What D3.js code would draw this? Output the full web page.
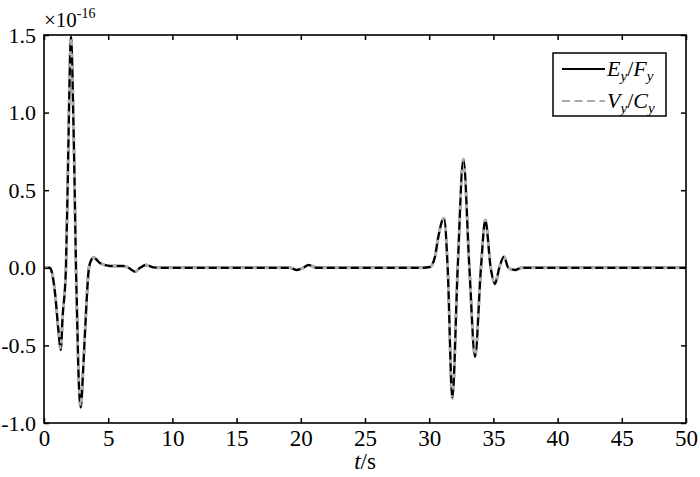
<!DOCTYPE html>
<html><head><meta charset="utf-8">
<script src="https://cdn.jsdelivr.net/npm/d3@7"></script>
<style>
html,body{margin:0;padding:0;background:#fff;}
svg{display:block;font-family:"Liberation Serif","Times New Roman",serif;}
</style></head>
<body><svg id="c" width="700" height="477"></svg>
<script>
// time samples (s)
const timeS = [0, 0.45, 0.6, 0.86, 1.12, 1.30, 1.45, 1.71, 1.87, 2.0, 2.10, 2.2, 2.36, 2.49, 2.67, 2.86, 3.06, 3.32, 3.5, 3.68, 3.84, 4.36, 5.14, 6.18, 6.6, 7.09, 7.48, 7.94, 8.5, 9.0, 15.5, 19.16, 19.68, 20.2, 20.6, 21.24, 29.5, 30.06, 30.45, 30.71, 31.15, 31.44, 31.8, 32.22, 32.66, 33.13, 33.57, 34.03, 34.37, 34.79, 35.12, 35.46, 35.83, 36.16, 36.68, 37.2, 50];
// Ey/Fy (x1e-16)
const eyFy = [0, 0, -0.025, -0.164, -0.40, -0.53, -0.315, 0, 0.65, 1.25, 1.49, 1.3, 0.65, 0, -0.64, -0.90, -0.64, -0.21, 0, 0.05, 0.068, 0.03, 0.012, 0.012, 0.0, -0.025, 0.0, 0.018, 0.003, 0, 0, 0, -0.014, 0, 0.018, 0, 0, 0.005, 0.072, 0.2, 0.319, 0, -0.841, 0, 0.699, 0, -0.573, 0, 0.308, 0, -0.104, 0, 0.072, 0, -0.014, 0, 0];
// Vy/Cy (x1e-16)
const vyCy = [0, 0, -0.025, -0.164, -0.40, -0.53, -0.315, 0, 0.65, 1.25, 1.49, 1.3, 0.65, 0, -0.64, -0.90, -0.64, -0.21, 0, 0.05, 0.068, 0.03, 0.012, 0.012, 0.0, -0.025, 0.0, 0.018, 0.003, 0, 0, 0, -0.014, 0, 0.018, 0, 0, 0.005, 0.072, 0.2, 0.319, 0, -0.841, 0, 0.699, 0, -0.573, 0, 0.308, 0, -0.104, 0, 0.072, 0, -0.014, 0, 0];
const xTicks = [0, 5, 10, 15, 20, 25, 30, 35, 40, 45, 50];
const yTicks = [-1.0, -0.5, 0.0, 0.5, 1.0, 1.5];

const svg = d3.select("#c");
const L = 44, R = 686, T = 35, B = 423;
const x = d3.scaleLinear().domain([0, 50]).range([L, R]);
const y = d3.scaleLinear().domain([-1, 1.5]).range([B, T]);
const TL = 5;

const line = d3.line().x((d, i) => x(timeS[i])).y(d => y(d)).curve(d3.curveMonotoneX);

const g = svg.append("g");
g.append("path").attr("d", line(eyFy)).attr("fill", "none").attr("stroke", "#000").attr("stroke-width", 2.4);
g.append("path").attr("d", line(vyCy)).attr("fill", "none").attr("stroke", "#b0b0b0").attr("stroke-width", 3).attr("stroke-dasharray", "4,8");

// axes
const fmt = d => d.toFixed(1).replace("\u2212", "-");
const axB = d3.axisBottom(x).tickValues(xTicks).tickSize(-TL).tickPadding(7).tickFormat(d3.format("d"));
const axT = d3.axisTop(x).tickValues(xTicks).tickSize(-TL).tickFormat("");
const axL = d3.axisLeft(y).tickValues(yTicks).tickSize(-TL).tickPadding(8).tickFormat(fmt);
const axR = d3.axisRight(y).tickValues(yTicks).tickSize(-TL).tickFormat("");

function style(sel, fs) {
  sel.attr("font-family", null);
  sel.select(".domain").remove();
  sel.selectAll(".tick line").attr("stroke", "#000").attr("stroke-width", 1.5);
  sel.selectAll("text").style("font-family", "'Liberation Serif', serif").attr("font-size", fs).attr("fill", "#000");
}
style(svg.append("g").attr("transform", `translate(0,${B})`).call(axB), 23);
style(svg.append("g").attr("transform", `translate(0,${T})`).call(axT), 20);
style(svg.append("g").attr("transform", `translate(${L},0)`).call(axL), 22);
style(svg.append("g").attr("transform", `translate(${R},0)`).call(axR), 20);

svg.append("rect").attr("x", L).attr("y", T).attr("width", R - L).attr("height", B - T)
  .attr("fill", "none").attr("stroke", "#000").attr("stroke-width", 1.6);

// exponent label
const ex = svg.append("text").attr("x", 44).attr("y", 27).attr("font-size", 21).attr("fill", "#000");
ex.append("tspan").text("\u00d710");
ex.append("tspan").attr("font-size", 14).attr("dy", -9).text("-16");

// x label
const xl = svg.append("text").attr("x", 365).attr("y", 469).attr("text-anchor", "middle").attr("font-size", 23).attr("fill", "#000");
xl.append("tspan").attr("font-style", "italic").text("t");
xl.append("tspan").text("/s");

// legend
const lg = svg.append("g");
lg.append("rect").attr("x", 553).attr("y", 53).attr("width", 113).attr("height", 63)
  .attr("fill", "#fff").attr("stroke", "#000").attr("stroke-width", 1.5);
const items = [
  {a: "E", b: "F", color: "#000", dash: null, yy: 69},
  {a: "V", b: "C", color: "#a8a8a8", dash: "8,4.5", yy: 101}
];
items.forEach(it => {
  lg.append("line").attr("x1", 562).attr("x2", 605).attr("y1", it.yy).attr("y2", it.yy)
    .attr("stroke", it.color).attr("stroke-width", 2).attr("stroke-dasharray", it.dash);
  const t = lg.append("text").attr("x", 607).attr("y", it.yy + 7).attr("font-size", 22).attr("fill", "#000");
  t.append("tspan").attr("font-style", "italic").text(it.a);
  t.append("tspan").attr("font-style", "italic").attr("font-size", 15).attr("dy", 5).text("y");
  t.append("tspan").attr("dy", -5).text("/");
  t.append("tspan").attr("font-style", "italic").text(it.b);
  t.append("tspan").attr("font-style", "italic").attr("font-size", 15).attr("dy", 5).text("y");
});
</script></body></html>
